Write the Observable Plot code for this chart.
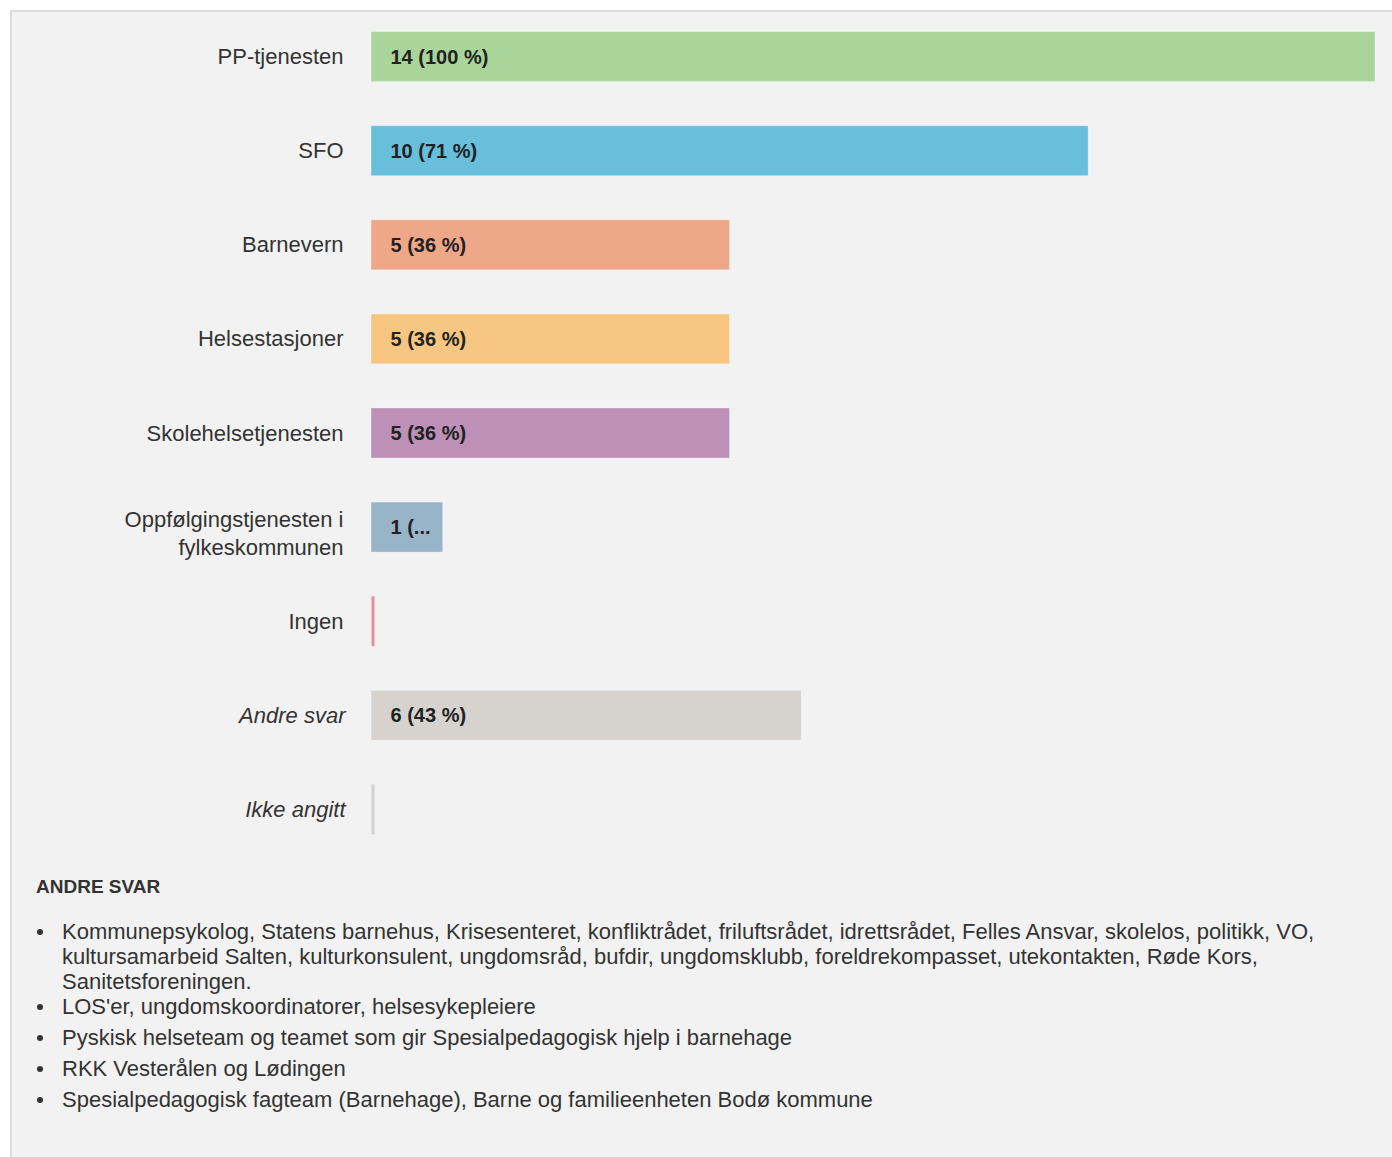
<!DOCTYPE html>
<html>
<head>
<meta charset="utf-8">
<script src="https://cdn.jsdelivr.net/npm/d3@7"></script>
<script src="https://cdn.jsdelivr.net/npm/@observablehq/plot@0.6"></script>
<style>
  html, body { margin: 0; padding: 0; background: #ffffff; }
  body { width: 1392px; height: 1157px; overflow: hidden; position: relative; font-family: "Liberation Sans", Arial, sans-serif; }
  #panel {
    position: absolute; left: 10px; top: 10px; right: 0; bottom: 0;
    background: #f2f2f2;
    border-left: 2px solid #dcdcdc; border-top: 2px solid #dcdcdc;
  }
  #chart svg { display: block; }
  h3 {
    margin: 24px 0 0 24px; font-size: 19px; font-weight: bold; color: #333;
    line-height: 22px;
  }
  ul {
    margin: 21px 0 0 0; padding-left: 50px; color: #333; list-style: none;
    font-size: 22px; line-height: 25px; white-space: nowrap;
  }
  li { margin-bottom: 6px; position: relative; }
  li:first-child { margin-bottom: 0; }
  li::before {
    content: ""; position: absolute; left: -25px; top: 10px;
    width: 6px; height: 6px; border-radius: 50%; background: #333;
  }
</style>
</head>
<body>
<div id="panel">
  <div id="chart"></div>
  <h3>ANDRE SVAR</h3>
  <ul id="other"></ul>
</div>
<script>
const categories = ["PP-tjenesten", "SFO", "Barnevern", "Helsestasjoner", "Skolehelsetjenesten", "Oppfølgingstjenesten i\nfylkeskommunen", "Ingen", "Andre svar", "Ikke angitt"];
const counts = [14, 10, 5, 5, 5, 1, 0, 6, 0];
const colors = ["#a9d59b", "#67bfdc", "#eea788", "#f7c782", "#bc90b7", "#98b4c9", "#e590a2", "#d6d3ce", "#d3d1ce"];
const italicCategories = ["Andre svar", "Ikke angitt"];
const respondents = 14;
const otherAnswers = [
  "Kommunepsykolog, Statens barnehus, Krisesenteret, konfliktrådet, friluftsrådet, idrettsrådet, Felles Ansvar, skolelos, politikk, VO,\nkultursamarbeid Salten, kulturkonsulent, ungdomsråd, bufdir, ungdomsklubb, foreldrekompasset, utekontakten, Røde Kors,\nSanitetsforeningen.",
  "LOS'er, ungdomskoordinatorer, helsesykepleiere",
  "Pyskisk helseteam og teamet som gir Spesialpedagogisk hjelp i barnehage",
  "RKK Vesterålen og Lødingen",
  "Spesialpedagogisk fagteam (Barnehage), Barne og familieenheten Bodø kommune"
];

const data = categories.map((c, i) => ({
  category: c,
  value: counts[i],
  color: colors[i],
  label: counts[i] === 0 ? "" :
    (counts[i] / respondents < 0.15 ? `${counts[i]} (...` : `${counts[i]} (${Math.round(counts[i] / respondents * 100)} %)`)
}));

const font = '"Liberation Sans", Arial, sans-serif';

const chart = Plot.plot({
  width: 1380,
  height: 840,
  marginLeft: 359,
  marginRight: 17,
  marginTop: 19.6,
  marginBottom: 17.6,
  style: { background: "transparent", fontFamily: font },
  x: { domain: [0, respondents], axis: null },
  y: { domain: categories, axis: null, paddingInner: 0.4687, paddingOuter: 0, round: false },
  color: { type: "identity" },
  marks: [
    Plot.barX(data.filter(d => d.value > 0), {
      x: "value", y: "category", fill: "color",
      stroke: "#ffffff", strokeOpacity: 0.35, strokeWidth: 1
    }),
    Plot.tickX(data.filter(d => d.value === 0), {
      x: "value", y: "category", stroke: "color", strokeWidth: 3, dx: 1.5
    }),
    Plot.text(data.filter(d => d.value > 0), {
      x: 0, y: "category", text: "label", dx: 19, textAnchor: "start",
      fontSize: 20, fontWeight: "bold", fill: "#222"
    }),
    Plot.text(data.filter(d => !italicCategories.includes(d.category) && !d.category.includes("\n")), {
      x: 0, y: "category", text: "category", dx: -28, textAnchor: "end",
      fontSize: 22, fill: "#333"
    }),
    Plot.text(data.filter(d => d.category.includes("\n")), {
      x: 0, y: "category", text: "category", dx: -28, dy: -20, textAnchor: "end",
      lineAnchor: "top", lineHeight: 1.27, fontSize: 22, fill: "#333"
    }),
    Plot.text(data.filter(d => italicCategories.includes(d.category)), {
      x: 0, y: "category", text: "category", dx: -26, textAnchor: "end",
      fontSize: 22, fontStyle: "italic", fill: "#333"
    })
  ]
});
document.getElementById("chart").appendChild(chart);

const ul = document.getElementById("other");
otherAnswers.forEach(t => {
  const li = document.createElement("li");
  t.split("\n").forEach((line, i) => {
    if (i > 0) li.appendChild(document.createElement("br"));
    li.appendChild(document.createTextNode(line));
  });
  ul.appendChild(li);
});
</script>
</body>
</html>
